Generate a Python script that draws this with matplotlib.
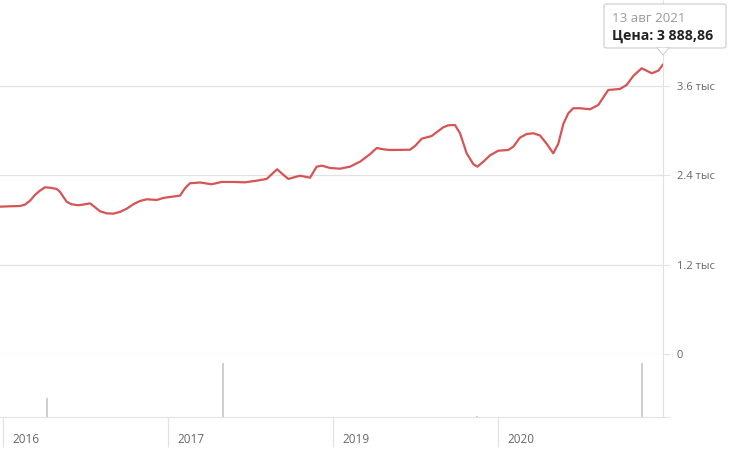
import matplotlib
matplotlib.use("Agg")
import matplotlib.pyplot as plt
from matplotlib.patches import FancyBboxPatch, Polygon

plt.rcParams['font.family'] = ['Open Sans', 'DejaVu Sans']

# price line: position on the time axis (period units) and price, rub
t = [-0.018, 0.042, 0.103, 0.133, 0.164, 0.194, 0.224, 0.255, 0.285, 0.325,
     0.345, 0.365, 0.386, 0.416, 0.456, 0.497, 0.527, 0.558, 0.588, 0.628,
     0.668, 0.709, 0.750, 0.790, 0.830, 0.871, 0.932, 0.972, 1.012, 1.073,
     1.103, 1.133, 1.194, 1.265, 1.325, 1.396, 1.467, 1.538, 1.598, 1.635,
     1.662, 1.689, 1.729, 1.800, 1.861, 1.901, 1.932, 1.982, 2.042, 2.103,
     2.164, 2.224, 2.265, 2.305, 2.345, 2.467, 2.497, 2.538, 2.598, 2.668,
     2.699, 2.739, 2.770, 2.810, 2.850, 2.875, 2.911, 2.952, 3.002, 3.062,
     3.093, 3.133, 3.174, 3.214, 3.255, 3.295, 3.335, 3.365, 3.396, 3.426,
     3.456, 3.497, 3.558, 3.608, 3.668, 3.739, 3.780, 3.820, 3.871, 3.932,
     3.972, 4.000]
price = [1979, 1984, 1988, 2006, 2059, 2136, 2194, 2239, 2234, 2217,
         2180, 2113, 2046, 2011, 1998, 2011, 2024, 1971, 1917, 1890,
         1885, 1908, 1952, 2011, 2055, 2078, 2069, 2096, 2109, 2127,
         2226, 2293, 2304, 2280, 2311, 2311, 2306, 2328, 2351, 2427,
         2481, 2427, 2351, 2395, 2368, 2516, 2530, 2499, 2489, 2516,
         2583, 2683, 2767, 2750, 2740, 2744, 2794, 2892, 2928, 3045,
         3072, 3076, 2965, 2696, 2552, 2516, 2583, 2669, 2731, 2740,
         2785, 2906, 2955, 2965, 2935, 2824, 2696, 2821, 3090, 3233,
         3301, 3301, 3287, 3345, 3546, 3560, 3614, 3735, 3838, 3771,
         3806, 3888.86]

# volume bars (relative)
vol_t = [0.267, 1.333, 2.873, 3.873]
vol = [0.35, 1.0, 0.02, 1.0]

year_ticks = [0, 1, 2, 3]
year_labels = ["2016", "2017", "2019", "2020"]
price_ticks = [0, 1200, 2400, 3600]
price_labels = ["0", "1.2 тыс", "2.4 тыс", "3.6 тыс"]

grid_c = "#e2e2e2"
text_c = "#666666"

fig = plt.figure(figsize=(7.4, 4.57), dpi=100)
W, H = 740, 457
ax = fig.add_axes([0, (H - 354) / H, 663 / W, 354 / H])
ax2 = fig.add_axes([0, (H - 417) / H, 663 / W, 63 / H])

# main price panel
ax.plot(t, price, color="#d65454", lw=1.6, solid_joinstyle="round",
        solid_capstyle="round", zorder=3)
ax.set_xlim(-0.018, 4.0)
ax.set_ylim(0, 4755)
ax.set_xticks([])
ax.yaxis.tick_right()
ax.set_yticks(price_ticks)
ax.set_yticklabels(price_labels)
ax.tick_params(axis="y", length=5, color=grid_c, labelcolor=text_c, labelsize=8, pad=5)
ax.grid(axis="y", color=grid_c, lw=0.9)
for s in ["top", "left", "bottom"]:
    ax.spines[s].set_visible(False)
ax.spines["right"].set_color(grid_c)

# volume panel
ax2.bar(vol_t, vol, width=0.013, color="#cfcfcf")
ax2.set_xlim(-0.018, 4.0)
ax2.set_ylim(0, 1.167)
ax2.yaxis.tick_right()
ax2.set_yticks([0])
ax2.set_yticklabels([""])
ax2.tick_params(axis="y", length=5, color=grid_c)
ax2.set_xticks(year_ticks)
ax2.set_xticklabels([])
ax2.tick_params(axis="x", length=21.6, color=grid_c, width=0.9)
for s in ["top", "left"]:
    ax2.spines[s].set_visible(False)
ax2.spines["bottom"].set_color(grid_c)
ax2.spines["right"].set_color(grid_c)
for xt, lab in zip(year_ticks, year_labels):
    ax2.annotate(lab, xy=(xt, 0), xycoords=("data", "axes fraction"),
                 xytext=(7, -16), textcoords="offset points",
                 ha="left", va="center", fontsize=8.5, color=text_c,
                 annotation_clip=False)

# tooltip
box = FancyBboxPatch((604 / W, 1 - 48 / H), 122 / W, 44 / H,
                     boxstyle="round,pad=0,rounding_size=0.004",
                     transform=fig.transFigure, facecolor="white",
                     edgecolor="#cccccc", lw=0.8, zorder=10)
fig.patches.append(box)
tri = Polygon([(657 / W, 1 - 47.5 / H), (669 / W, 1 - 47.5 / H), (663 / W, 1 - 55 / H)],
              closed=True, transform=fig.transFigure, facecolor="white",
              edgecolor="#cccccc", lw=0.8, zorder=11)
fig.patches.append(tri)
fig.patches.append(Polygon([(657.8 / W, 1 - 47.6 / H), (668.2 / W, 1 - 47.6 / H), (663 / W, 1 - 54 / H)],
                           closed=True, transform=fig.transFigure, facecolor="white",
                           edgecolor="none", zorder=12))
fig.text(612 / W, 1 - 18 / H, "13 авг 2021", fontsize=9.6, color="#9a9a9a",
         va="center", ha="left", zorder=13)
fig.text(612 / W, 1 - 36 / H, "Цена: 3 888,86", fontsize=10.2, fontweight="bold",
         color="#222222", va="center", ha="left", zorder=13)

fig.savefig("out.png", dpi=100)
